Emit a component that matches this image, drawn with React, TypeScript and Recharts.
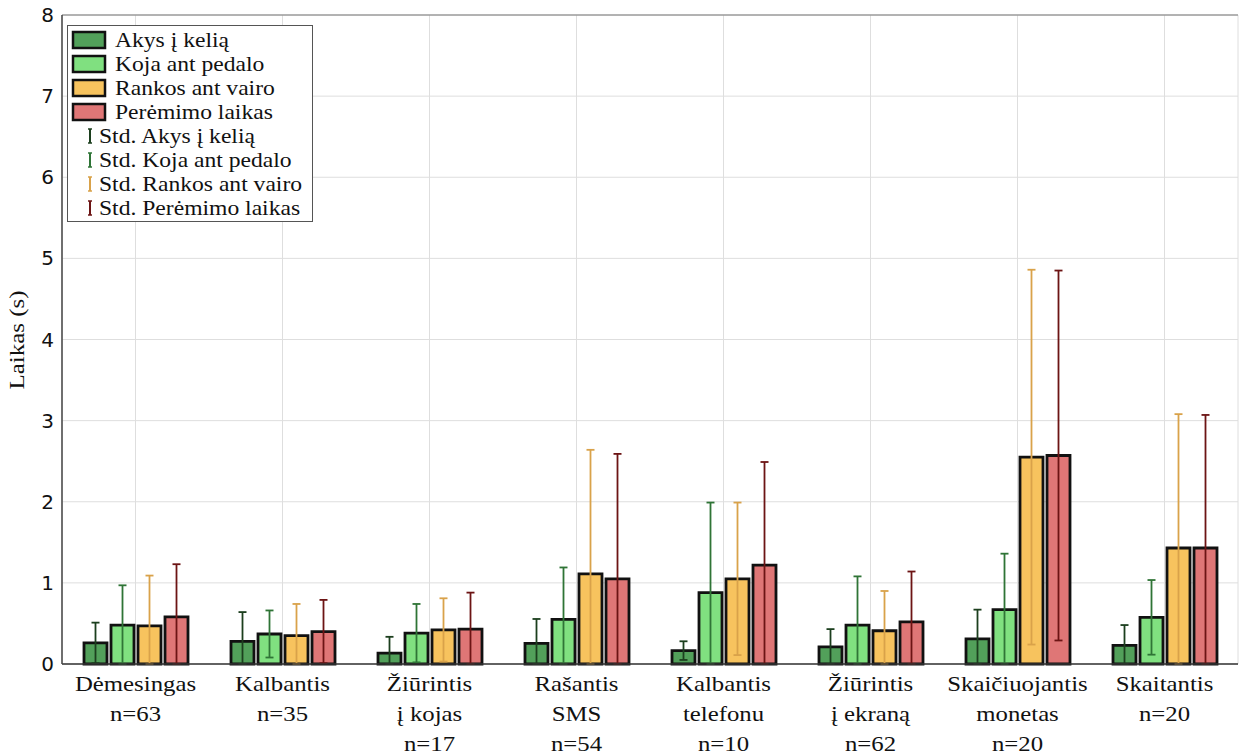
import React from "react";
import {
  BarChart,
  Bar,
  XAxis,
  YAxis,
  CartesianGrid,
  ErrorBar,
  Legend,
  ReferenceLine,
} from "recharts";

const categories = [
  "Dėmesingas\nn=63",
  "Kalbantis\nn=35",
  "Žiūrintis\nį kojas\nn=17",
  "Rašantis\nSMS\nn=54",
  "Kalbantis\ntelefonu\nn=10",
  "Žiūrintis\nį ekraną\nn=62",
  "Skaičiuojantis\nmonetas\nn=20",
  "Skaitantis\nn=20",
];

const akys = [0.26, 0.28, 0.135, 0.255, 0.165, 0.21, 0.31, 0.23];
const akysStd = [0.25, 0.36, 0.2, 0.3, 0.115, 0.22, 0.36, 0.25];
const koja = [0.48, 0.37, 0.38, 0.55, 0.88, 0.48, 0.67, 0.575];
const kojaStd = [0.49, 0.29, 0.36, 0.64, 1.11, 0.6, 0.69, 0.46];
const rankos = [0.47, 0.35, 0.42, 1.11, 1.05, 0.41, 2.55, 1.43];
const rankosStd = [0.62, 0.39, 0.39, 1.53, 0.94, 0.49, 2.31, 1.65];
const peremimo = [0.58, 0.4, 0.43, 1.05, 1.22, 0.52, 2.57, 1.43];
const peremimoStd = [0.65, 0.39, 0.45, 1.54, 1.27, 0.62, 2.28, 1.64];

const yTicks = [0, 1, 2, 3, 4, 5, 6, 7, 8];

const series = [
  { key: "akys", name: "Akys į kelią", fill: "#52a05a", err: "#1c3f1e" },
  { key: "koja", name: "Koja ant pedalo", fill: "#80e080", err: "#2f7436" },
  { key: "rankos", name: "Rankos ant vairo", fill: "#f7c35e", err: "#d9a24a" },
  { key: "peremimo", name: "Perėmimo laikas", fill: "#df7676", err: "#6c1414" },
];

// error below zero gets cut at the axis like in the original
const clipErr = (m: number, s: number) => [Math.min(m, s), s];

const data = categories.map((name, i) => ({
  name,
  akys: akys[i],
  akysErr: clipErr(akys[i], akysStd[i]),
  koja: koja[i],
  kojaErr: clipErr(koja[i], kojaStd[i]),
  rankos: rankos[i],
  rankosErr: clipErr(rankos[i], rankosStd[i]),
  peremimo: peremimo[i],
  peremimoErr: clipErr(peremimo[i], peremimoStd[i]),
}));

const SERIF = "'Liberation Serif', 'Times New Roman', serif";
const STRETCH = 1.18;

function CategoryTick({ x, y, payload }: any) {
  const lines = String(payload.value).split("\n");
  return (
    <g transform={`translate(${x},${y})`}>
      {lines.map((line, i) => (
        <text
          key={i}
          transform={`translate(0,${19 + i * 30}) scale(${STRETCH},1)`}
          textAnchor="middle"
          fontFamily={SERIF}
          fontSize={21}
          fill="#111"
        >
          {line}
        </text>
      ))}
    </g>
  );
}

function LegendBox() {
  const rowY = (i: number) => 22 + i * 24;
  return (
    <svg width={246} height={197} style={{ display: "block" }}>
      <rect x={0.5} y={0.5} width={245} height={196} fill="#fff" stroke="#555" />
      {series.map((s, i) => (
        <g key={s.key}>
          <rect x={6} y={rowY(i) - 15} width={32} height={16} fill={s.fill} stroke="#111" strokeWidth={2.5} />
          <text
            transform={`translate(48,${rowY(i)}) scale(${STRETCH},1)`}
            fontFamily={SERIF}
            fontSize={20}
            fill="#111"
          >
            {s.name}
          </text>
        </g>
      ))}
      {series.map((s, i) => {
        const by = rowY(i + 4);
        return (
          <g key={s.key + "std"}>
            <line x1={23} x2={23} y1={by - 14} y2={by} stroke={s.err} strokeWidth={2} />
            <line x1={21} x2={25} y1={by - 14} y2={by - 14} stroke={s.err} strokeWidth={1.5} />
            <line x1={21} x2={25} y1={by} y2={by} stroke={s.err} strokeWidth={1.5} />
            <text
              transform={`translate(32,${by}) scale(${STRETCH},1)`}
              fontFamily={SERIF}
              fontSize={20}
              fill="#111"
            >
              {"Std. " + s.name}
            </text>
          </g>
        );
      })}
    </svg>
  );
}

export default function App() {
  return (
    <div style={{ position: "absolute", left: 0, top: 0, background: "#fff" }}>
      <BarChart
        width={1248}
        height={756}
        data={data}
        margin={{ top: 15, right: 10, left: 0, bottom: 0 }}
        barSize={23}
        barGap={4}
      >
        <CartesianGrid stroke="#dedede" />
        <XAxis
          dataKey="name"
          interval={0}
          height={92}
          tickLine={false}
          axisLine={{ stroke: "#333", strokeWidth: 1.5 }}
          tick={<CategoryTick />}
        />
        <YAxis
          domain={[0, 8]}
          ticks={yTicks}
          width={62}
          tickLine={false}
          axisLine={{ stroke: "#444", strokeWidth: 1.5 }}
          tick={{ fontFamily: "'DejaVu Sans', sans-serif", fontSize: 20, fill: "#111" }}
          label={{
            content: () => (
              <text
                transform="translate(24,340) rotate(-90) scale(1.25,1)"
                textAnchor="middle"
                fontFamily={SERIF}
                fontSize={20}
                fill="#111"
              >
                Laikas (s)
              </text>
            ),
          }}
        />
        <YAxis
          yAxisId="right"
          orientation="right"
          domain={[0, 8]}
          ticks={yTicks}
          width={0}
          tick={false}
          tickLine={false}
          axisLine={{ stroke: "#666" }}
        />
        <ReferenceLine y={8} stroke="#777" />
        <Legend
          layout="horizontal"
          verticalAlign="middle"
          align="center"
          wrapperStyle={{ position: "absolute", left: 67, top: 25, width: 246, height: 197 }}
          content={() => <LegendBox />}
        />
        {series.map((s) => (
          <Bar
            key={s.key}
            dataKey={s.key}
            name={s.name}
            fill={s.fill}
            stroke="#111"
            strokeWidth={2.8}
            isAnimationActive={false}
          >
            <ErrorBar
              dataKey={s.key + "Err"}
              width={4}
              stroke={s.err}
              strokeWidth={1.8}
              direction="y"
              isAnimationActive={false}
            />
          </Bar>
        ))}
      </BarChart>
    </div>
  );
}
